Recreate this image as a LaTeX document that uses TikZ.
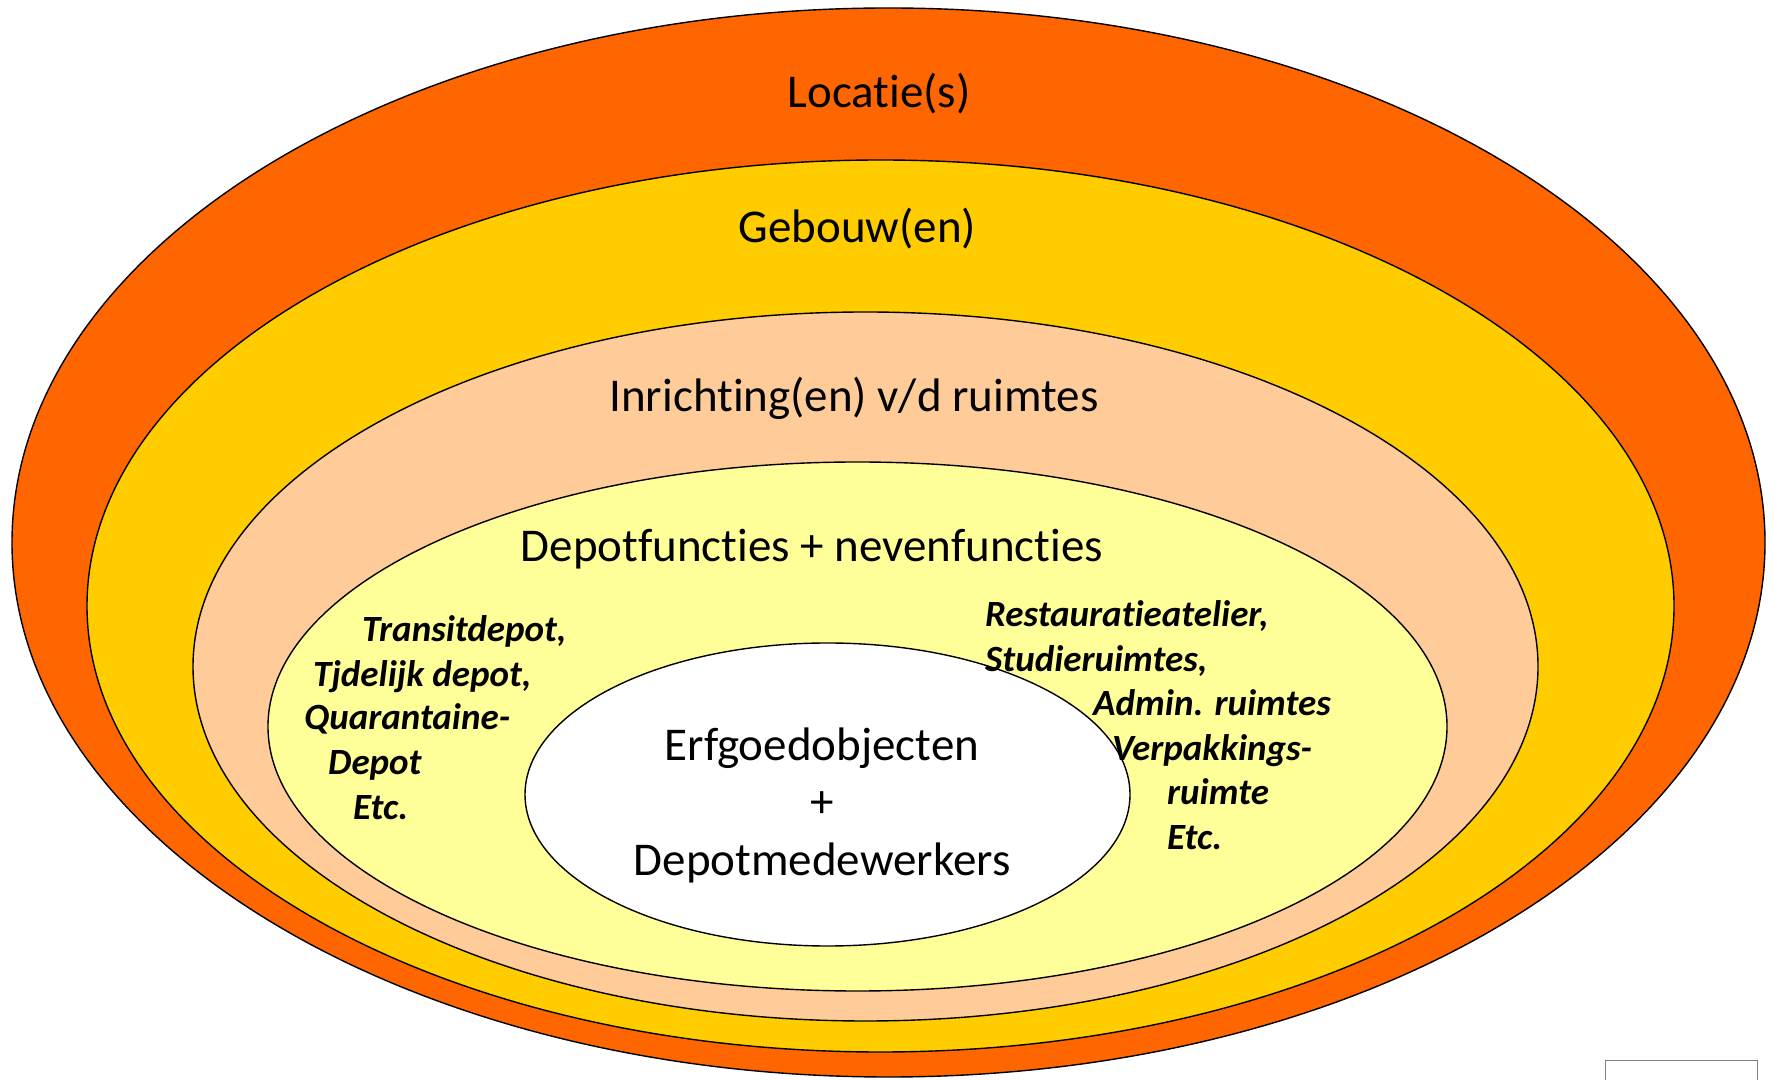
\documentclass[tikz,border=0pt]{standalone}
\usepackage{fontspec}
\setmainfont{Carlito}[Ligatures=NoCommon]
\usetikzlibrary{calc}
\definecolor{locatiecol}{HTML}{FF6600}
\definecolor{gebouwcol}{HTML}{FFCC00}
\definecolor{inrichtingcol}{HTML}{FFCC99}
\definecolor{depotcol}{HTML}{FFFF99}
\tikzset{ring/.style={draw=black, line width=1.4pt}}
\tikzset{ringtext/.style={anchor=base, inner sep=0pt, font=\fontsize{47}{57.5}\selectfont}}
\tikzset{sidetext/.style={anchor=base west, inner sep=0pt, font=\fontsize{37}{44.6}\selectfont\bfseries\itshape}}

\begin{document}
\begin{tikzpicture}[x=1pt, y=1pt]
	
		% Frame
		\useasboundingbox (0,0) rectangle (1774,1079);
		
		% Coordinates
		%% Centres of the rings
		\coordinate (L) at (888.5,536.5);
		\coordinate (G) at (880.5,473);
		\coordinate (I) at (865.5,412.5);
		\coordinate (D) at (857.5,352.5);
		\coordinate (E) at (827.5,284.5);
		
		% Rings
		\fill[locatiecol, ring] (L) ellipse [x radius=876.5, y radius=534.5];
		\fill[gebouwcol, ring] (G) ellipse [x radius=793.5, y radius=446];
		\fill[inrichtingcol, ring] (I) ellipse [x radius=672.5, y radius=354.5];
		\fill[depotcol, ring] (D) ellipse [x radius=589.5, y radius=264.5];
		\fill[white, ring] (E) ellipse [x radius=302.5, y radius=151.5];
		
		% Box in the corner
		\draw[gray, line width=1pt] (1605,-3) rectangle (1757,19);
		
		% Ring titles
		\node[ringtext] (locatie) at (879,971) {Locatie(s)};
		\node[ringtext] (gebouw) at (857.5,836) {Gebouw(en)};
		\node[ringtext] (inrichting) at (854,667) {Inrichting(en) v/d ruimtes};
		\node[ringtext] (depot) at (812,517) {Depotfuncties + nevenfuncties};
		\node[ringtext, align=center] (kern) at (822,204) {Erfgoedobjecten\\+\\Depotmedewerkers}; % base = last line
		
		% Left side
		\node[sidetext] (l1) at (362,437) {Transitdepot,};
		\node[sidetext] (l2) at (313,392) {Tjdelijk depot,};
		\node[sidetext] (l3) at (304,349) {Quarantaine-};
		\node[sidetext] (l4) at (328,304) {Depot};
		\node[sidetext] (l5) at (353,259) {Etc.};
		
		% Right side
		\node[sidetext] (r1) at (985,452) {Restauratieatelier,};
		\node[sidetext] (r2) at (985,407) {Studieruimtes,};
		\node[sidetext] (r3) at (1093,363) {Admin. ruimtes};
		\node[sidetext] (r4) at (1112,318) {Verpakkings-};
		\node[sidetext] (r5) at (1167,274) {ruimte};
		\node[sidetext] (r6) at (1167,229) {Etc.};
	\end{tikzpicture}
\end{document}
